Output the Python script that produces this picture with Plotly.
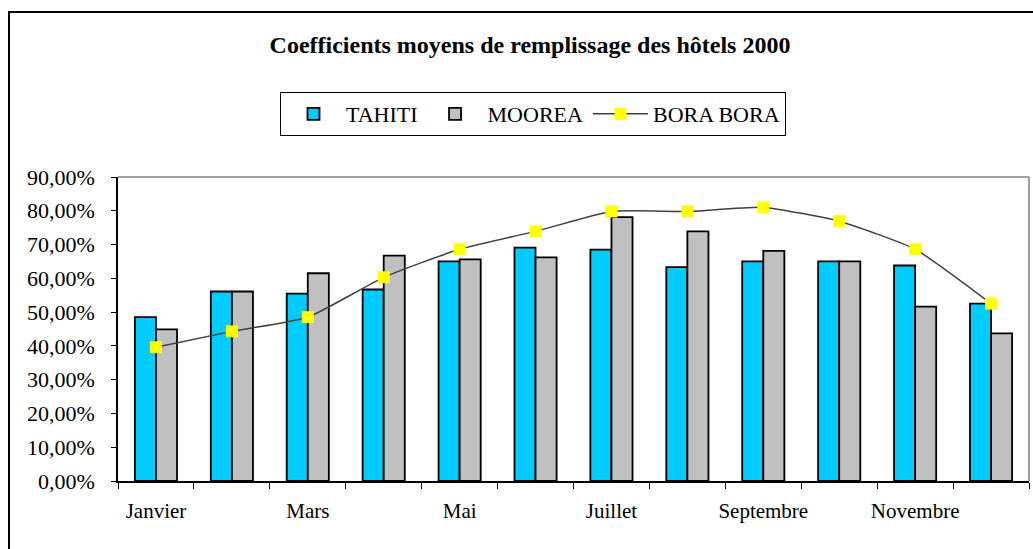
import plotly.graph_objects as go

months = ["Janvier", "Février", "Mars", "Avril", "Mai", "Juin", "Juillet",
          "Août", "Septembre", "Octobre", "Novembre", "Décembre"]
tick_labels = ["Janvier", "", "Mars", "", "Mai", "", "Juillet", "",
               "Septembre", "", "Novembre", ""]
tahiti = [0.485, 0.561, 0.555, 0.567, 0.650, 0.691, 0.685, 0.633, 0.650, 0.650, 0.638, 0.525]
moorea = [0.449, 0.561, 0.615, 0.667, 0.656, 0.662, 0.781, 0.739, 0.681, 0.650, 0.516, 0.437]
bora_bora = [0.396, 0.443, 0.485, 0.603, 0.686, 0.739, 0.798, 0.798, 0.810, 0.769, 0.686, 0.525]

FONT = "Liberation Serif, Times New Roman, serif"

fig = go.Figure()
fig.add_trace(go.Bar(name="TAHITI", x=months, y=tahiti,
                     marker=dict(color="#00CCFF", line=dict(color="black", width=1.8))))
fig.add_trace(go.Bar(name="MOOREA", x=months, y=moorea,
                     marker=dict(color="#C0C0C0", line=dict(color="black", width=1.8))))
fig.add_trace(go.Scatter(name="BORA BORA", x=months, y=bora_bora, mode="lines+markers",
                         line=dict(color="#404040", width=1.5, shape="spline", smoothing=0.5),
                         marker=dict(symbol="square", size=12, color="#FFFF00",
                                     line=dict(width=0))))

W, H = 1033, 549
L, R, T, B = 118, 4, 177, 68
pw, ph = W - L - R, H - T - B

def px_x(p):
    return (p - L) / pw

def px_y(p):
    return (H - B - p) / ph

fig.update_layout(
    width=W, height=H,
    margin=dict(l=L, r=R, t=T, b=B, autoexpand=False),
    paper_bgcolor="white", plot_bgcolor="white",
    separators=", ",
    font=dict(family=FONT, size=20, color="black"),
    barmode="group", bargap=0.445, bargroupgap=0,
    showlegend=True,
    title=dict(text="<b>Coefficients moyens de remplissage des hôtels 2000</b>",
               x=px_x(530), xref="paper", xanchor="center",
               y=1 - 45 / H, yref="container", yanchor="middle",
               font=dict(family=FONT, size=24, color="black")),
    legend=dict(orientation="h", x=px_x(533), xanchor="center",
                y=px_y(92), yanchor="top",
                bordercolor="black", borderwidth=1, bgcolor="white",
                font=dict(family=FONT, size=22, color="black"),
                itemwidth=55, tracegroupgap=0),
    xaxis=dict(type="category", tickson="boundaries", tickmode="array",
               range=[-0.5, 11.5],
               tickvals=months, ticktext=tick_labels, tickangle=0,
               ticks="outside", ticklen=6, tickcolor="black", tickwidth=1,
               showline=True, linecolor="black", linewidth=1.5,
               showgrid=False, zeroline=False,
               ticklabelstandoff=10,
               tickfont=dict(family=FONT, size=21, color="black")),
    yaxis=dict(range=[0, 0.9], dtick=0.1, tick0=0, tickformat=".2%",
               ticks="outside", ticklen=5, tickcolor="black", tickwidth=1,
               showline=True, linecolor="black", linewidth=1.5,
               showgrid=False, zeroline=False,
               ticklabelstandoff=12,
               tickfont=dict(family=FONT, size=22, color="black")),
    shapes=[
        dict(type="line", xref="paper", yref="paper", x0=0, x1=1, y0=1, y1=1,
             line=dict(color="#808080", width=1.5), layer="below"),
        dict(type="line", xref="paper", yref="paper", x0=1, x1=1, y0=0, y1=1,
             line=dict(color="#808080", width=1.5), layer="below"),
        dict(type="rect", xref="paper", yref="paper",
             x0=px_x(9), x1=px_x(W + 20), y0=px_y(H + 20), y1=px_y(12),
             line=dict(color="black", width=2), fillcolor="rgba(0,0,0,0)", layer="below"),
    ],
)

fig.write_html("out.html",
               config=dict(displayModeBar=False),
               post_script="document.body.style.margin='0';document.body.style.overflow='hidden';")
